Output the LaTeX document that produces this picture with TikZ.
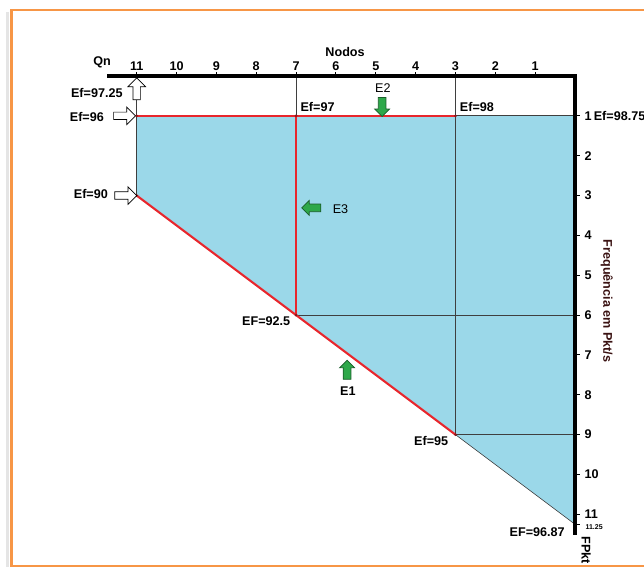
\documentclass[tikz,border=0pt]{standalone}
\usepackage{fontspec}
\setmainfont{Liberation Sans}
\usetikzlibrary{positioning,arrows.meta,shapes.arrows}
\definecolor{celeste}{HTML}{9BD8E9}
\definecolor{rojo}{HTML}{E8262C}
\definecolor{naranja}{HTML}{F79646}
\definecolor{verde}{HTML}{2EA84A}
\definecolor{gris}{HTML}{3F3F3F}
\definecolor{marron}{HTML}{3A1212}

\begin{document}
\begin{tikzpicture}[
      lbl/.style={font=\fontsize{9}{10}\selectfont\bfseries,inner sep=1pt},
      lblr/.style={font=\fontsize{9}{10}\selectfont,inner sep=1pt},
      eje/.style={line width=2.8pt,line join=miter},
      rejilla/.style={draw=gris,line width=0.6pt},
      ruta/.style={draw=rojo,line width=1.5pt},
      flecha/.style={single arrow,draw=black,fill=white,line width=0.5pt,
                     inner sep=2.4pt,single arrow head extend=3.6pt,
                     minimum height=0.55cm},
      flechaverde/.style={flecha,fill=verde,draw=verde!55!black,
                     inner sep=2.5pt,single arrow head extend=2.6pt,
                     minimum height=0.48cm}]
    \useasboundingbox (-14.43,1.907) rectangle (1.731,-12.32);
    % marco
    \draw[black!10,line width=2.5pt] (-14.24,1.6) -- (-14.24,-12.4);
    \draw[naranja,line width=2.1pt] (2.5,1.656) -| (-14.13,-12.30) -- (2.5,-12.30);
    % puntos
    \coordinate (o) at (0,0);
    \coordinate (t11) at (-11,0);
    \coordinate (t7) at (-7,0);
    \coordinate (t3) at (-3,0);
    \coordinate (a) at (-11,-1);
    \coordinate (b) at (-7,-1);
    \coordinate (c) at (-3,-1);
    \coordinate (d) at (0,-1);
    \coordinate (e) at (-11,-3);
    \coordinate (f) at (-7,-6);
    \coordinate (g) at (-3,-9);
    \coordinate (h) at (0,-11.25);
    \coordinate (i) at (0,-6);
    \coordinate (j) at (0,-9);
    \coordinate (ejex) at (-11.74,0);
    \coordinate (ejey) at (0,-11.52);
    % region
    \fill[celeste] (a) -- (d) -- (h) -- (g) -- (f) -- (e) -- cycle;
    \draw[rejilla] (t11) -- (e);
    \draw[rejilla] (t7) -- (f) -- (i);
    \draw[rejilla] (t3) -- (g) -- (j);
    \draw[rejilla] (a) -- (d);
    \draw[rejilla,line width=0.4pt] (g) -- (h);
    % camino
    \draw[ruta] (a) -- (c);
    \draw[ruta] (b) -- (f);
    \draw[ruta] (e) -- (g);
    \foreach \p in {a,b,c,e,f,g} \fill[rojo!60!black] (\p) circle (1.1pt);
    % ejes
    \draw[eje] (ejex) -- (o) -- (ejey);
    \foreach \n in {1,...,11} {
      \draw[line width=0.8pt] (-\n,0) -- ++(0,0.09);
      \node[lbl,anchor=south] (x\n) at (-\n,0.1) {\n};
    }
    \foreach \v in {1,...,11} {
      \draw[line width=0.8pt] (0,-\v) -- ++(0.13,0);
      \node[lbl,anchor=west] (y\v) at (0.2,-\v) {\v};
    }
    \draw[line width=0.8pt] (h) -- ++(0.13,0);
    \node[font=\fontsize{5}{6}\selectfont\bfseries,inner sep=0.5pt] (y1125) at (0.48,-11.32) {11.25};
    \node[lbl] (qn) at (-11.87,0.35) {Qn};
    \node[lbl] (nodos) at (-5.77,0.6) {Nodos};
    \node[lbl,rotate=-90,text=marron] (freq) at (0.8,-5.65) {Frequência em Pkt/s};
    \node[lbl,rotate=-90] (fpkt) at (0.28,-11.9) {FPkt};
    % eficiencias
    \node[lbl] (ef9725) at (-12.0,-0.42) {Ef=97.25};
    \node[lbl] (ef96) at (-12.25,-1.02) {Ef=96};
    \node[lbl] (ef90) at (-12.15,-2.96) {Ef=90};
    \node[lbl,anchor=west] (ef97) at (-6.93,-0.78) {Ef=97};
    \node[lbl,anchor=west] (ef98) at (-2.93,-0.78) {Ef=98};
    \node[lbl,anchor=west] (ef9875) at (0.43,-1) {Ef=98.75};
    \node[lbl] (ef925) at (-7.75,-6.15) {EF=92.5};
    \node[lbl] (ef95) at (-3.61,-9.16) {Ef=95};
    \node[lbl] (ef9687) at (-0.95,-11.44) {EF=96.87};
    \node[flecha,shape border rotate=90] (fl9725) at (-11,-0.37) {};
    \node[flecha] (fl96) at (-11.35,-1) {};
    \node[flecha] (fl90) at (-11.32,-3) {};
    % etapas
    \node[lblr] (e2) at (-4.82,-0.3) {E2};
    \node[flechaverde,shape border rotate=270] (fle2) at (-4.84,-0.73) {};
    \node[flechaverde,shape border rotate=180] (fle3) at (-6.57,-3.31) {};
    \node[lblr,anchor=west] (e3) at (-6.12,-3.33) {E3};
    \node[flechaverde,shape border rotate=90] (fle1) at (-5.72,-7.42) {};
    \node[lbl] (e1) at (-5.7,-7.9) {E1};
\end{tikzpicture}
\end{document}
